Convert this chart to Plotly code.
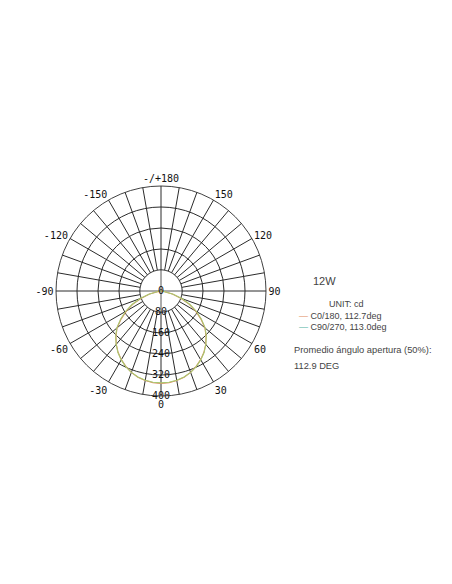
import plotly.graph_objects as go

# luminous intensity (cd), -180..180 deg every 5 deg
angles = list(range(-180, 181, 5))
c0_half = [352, 351, 346, 340, 330, 317, 302, 285, 265, 243, 218, 185,
           152, 118, 80, 45, 10, 2, 0]          # 0..90 deg
c90_half = [350, 349, 345, 339, 330, 318, 303, 286, 266, 244, 220, 188,
            156, 122, 84, 48, 12, 3, 0]
back = [0] * 18                                  # 95..180 deg
c0_180 = back[::-1] + c0_half[::-1] + c0_half[1:] + back
c90_270 = back[::-1] + c90_half[::-1] + c90_half[1:] + back

ring_vals = [80, 160, 240, 320, 400]
ring_labels = ["0", "80", "160", "240", "320", "400"]
spoke_vals = list(range(0, 360, 10))
angle_labels = {0: "0", 30: "30", 60: "60", 90: "90", 120: "120", 150: "150",
                180: "-/+180", 210: "-150", 240: "-120", 270: "-90",
                300: "-60", 330: "-30"}

# page is 452x584, the figure div sits 8px in from the body margin
PAD = 8
W, H = 452 - 2 * PAD, 584 - 2 * PAD
grid = "#2b2b2b"


def px(x):
    return (x - PAD) / W


def py(y):
    return 1 - (y - PAD) / H


fig = go.Figure()

# blank inner disc so the spokes start at the first ring
disc_theta = list(range(0, 361, 2))
fig.add_trace(go.Scatterpolar(
    r=[ring_vals[0]] * len(disc_theta), theta=disc_theta, mode="lines",
    fill="toself", fillcolor="white", line=dict(color=grid, width=0.8),
    hoverinfo="skip", showlegend=False))
for a in (90, 0):
    fig.add_trace(go.Scatterpolar(
        r=[ring_vals[0], 0, ring_vals[0]], theta=[a, a, a + 180], mode="lines",
        line=dict(color=grid, width=0.8), hoverinfo="skip", showlegend=False))

fig.add_trace(go.Scatterpolar(r=c0_180, theta=angles, mode="lines",
                              line=dict(color="#e0885e", width=1.1),
                              name="C0/180, 112.7deg", showlegend=False))
fig.add_trace(go.Scatterpolar(r=c90_270, theta=angles, mode="lines",
                              line=dict(color="#a8c870", width=1.1),
                              name="C90/270, 113.0deg", showlegend=False))

# radial value labels along the 0 deg direction
fig.add_trace(go.Scatterpolar(
    r=[0] + ring_vals, theta=[0] * 6, mode="text", text=ring_labels,
    textposition="middle center",
    textfont=dict(family="DejaVu Sans Mono", size=10, color="#111"),
    hoverinfo="skip", showlegend=False))

cx, cy, rad = 161, 291, 105
fig.update_layout(
    width=W, height=H,
    margin=dict(l=0, r=0, t=0, b=0),
    paper_bgcolor="white", plot_bgcolor="white",
    showlegend=False,
    polar=dict(
        domain=dict(x=[px(cx - rad), px(cx + rad)],
                    y=[py(cy + rad), py(cy - rad)]),
        bgcolor="white",
        radialaxis=dict(range=[0, 400], tickvals=ring_vals, showticklabels=False,
                        ticks="", showline=False, gridcolor=grid, gridwidth=0.8),
        angularaxis=dict(rotation=-90, direction="counterclockwise",
                         tickvals=spoke_vals,
                         ticktext=[angle_labels.get(v, "") for v in spoke_vals],
                         ticks="", showline=True, linecolor=grid, linewidth=0.9,
                         gridcolor=grid, gridwidth=0.8,
                         tickfont=dict(family="DejaVu Sans Mono", size=10,
                                       color="#111")),
    ),
)

txt = dict(family="Liberation Sans", color="#444")
notes = [
    (311, 281, "12W", 11),
    (327, 304, "UNIT: cd", 9),
    (297, 316, "<span style='color:#e0885e'>—</span> C0/180, 112.7deg", 9),
    (297, 327, "<span style='color:#4fb3a3'>—</span> C90/270, 113.0deg", 9),
    (292, 350, "Promedio ángulo apertura (50%):", 9.3),
    (292, 366, "112.9 DEG", 9.3),
]
for x, y, t, s in notes:
    fig.add_annotation(x=px(x), y=py(y), xref="paper", yref="paper",
                       text=t, showarrow=False, xanchor="left", yanchor="middle",
                       font=dict(size=s, **txt))

fig.write_html("out.html")
